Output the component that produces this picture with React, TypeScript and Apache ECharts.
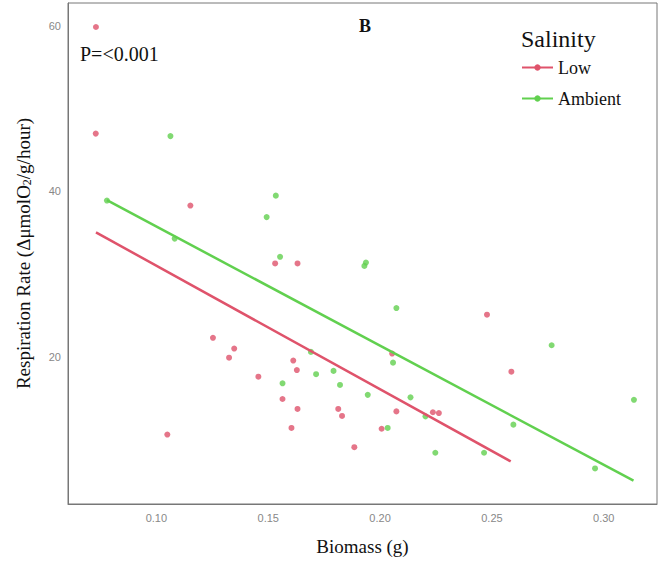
import React, { useEffect, useRef } from "react";
import * as echarts from "echarts";

const lowX = [0.073, 0.0729, 0.1152, 0.1531, 0.1631, 0.1253, 0.1348, 0.1325, 0.1456, 0.1564, 0.1612, 0.1628, 0.1631, 0.1604, 0.1049, 0.1813, 0.183, 0.1885, 0.2007, 0.2054, 0.2073, 0.2236, 0.2263, 0.2478, 0.2587];
const lowY = [59.9, 47.0, 38.3, 31.3, 31.3, 22.3, 21.0, 19.9, 17.6, 14.9, 19.55, 18.4, 13.7, 11.4, 10.6, 13.7, 12.85, 9.07, 11.3, 20.4, 13.4, 13.3, 13.2, 25.1, 18.2];

const ambX = [0.1063, 0.0779, 0.1082, 0.1534, 0.1493, 0.1553, 0.193, 0.1937, 0.1691, 0.1714, 0.1564, 0.1792, 0.1821, 0.1945, 0.2034, 0.2058, 0.2073, 0.2136, 0.2203, 0.2247, 0.2465, 0.2596, 0.2767, 0.2961, 0.3135];
const ambY = [46.7, 38.9, 34.3, 39.5, 36.9, 32.1, 31.0, 31.4, 20.6, 17.9, 16.8, 18.3, 16.6, 15.4, 11.4, 19.3, 25.9, 15.1, 12.8, 8.4, 8.4, 11.8, 21.4, 6.5, 14.8];

const lowFitX = [0.073, 0.2584];
const lowFitY = [35.06, 7.35];
const ambFitX = [0.0779, 0.3133];
const ambFitY = [38.95, 5.02];

const xTicks = [0.1, 0.15, 0.2, 0.25, 0.3];
const yTicks = [20, 40, 60];

const RED = "#DF536B";
const GREEN = "#61D04F";
const SERIF = "'Liberation Serif', 'Times New Roman', serif";

const zip = (a: number[], b: number[]) => a.map((v, i) => [v, b[i]]);

export default function App() {
  const ref = useRef<HTMLDivElement>(null);
  useEffect(() => {
    document.body.style.margin = "0";
    const chart = echarts.init(ref.current!, null, { renderer: "svg" });
    chart.setOption({
      animation: false,
      backgroundColor: "#fff",
      grid: { left: 68, top: 3, right: 3, bottom: 59, show: true, borderColor: "#777", borderWidth: 1, backgroundColor: "transparent" },
      xAxis: {
        type: "value",
        min: 0.0605,
        max: 0.3238,
        splitLine: { show: false },
        axisTick: { show: false },
        axisLine: { show: true, lineStyle: { color: "#777" } },
        axisLabel: { customValues: xTicks, formatter: (v: number) => v.toFixed(2), color: "#888", fontSize: 11, fontFamily: "'Liberation Sans', Arial, sans-serif", margin: 8 },
        name: "Biomass (g)",
        nameLocation: "middle",
        nameGap: 33,
        nameTextStyle: { fontFamily: SERIF, fontSize: 19, color: "#111" },
      },
      yAxis: {
        type: "value",
        min: 2.2,
        max: 62.8,
        splitLine: { show: false },
        axisTick: { show: false },
        axisLine: { show: true, lineStyle: { color: "#777" } },
        axisLabel: { customValues: yTicks, color: "#888", fontSize: 11, fontFamily: "'Liberation Sans', Arial, sans-serif", margin: 7 },
        name: "{a|Respiration Rate (ΔμmolO}{s|2}{a|/g/hour)}",
        nameLocation: "middle",
        nameGap: 35,
        nameTextStyle: {
          fontFamily: SERIF,
          fontSize: 19,
          color: "#111",
          rich: {
            a: { fontFamily: SERIF, fontSize: 19, color: "#111", lineHeight: 24, verticalAlign: "bottom" },
            s: { fontFamily: SERIF, fontSize: 12, color: "#111", lineHeight: 14, verticalAlign: "bottom" },
          },
        },
      },
      legend: {
        data: ["Low", "Ambient"],
        orient: "vertical",
        left: 521,
        top: 58,
        padding: 0,
        itemWidth: 31,
        itemHeight: 8,
        itemGap: 12,
        textStyle: { fontFamily: SERIF, fontSize: 18, color: "#111", lineHeight: 19 },
      },
      graphic: [
        { type: "text", left: 521, top: 27, style: { text: "Salinity", fontFamily: SERIF, fontSize: 24, fill: "#111" } },
        { type: "text", left: 359, top: 17, style: { text: "B", fontFamily: SERIF, fontSize: 18, fontWeight: "bold", fill: "#111" } },
        { type: "text", left: 80, top: 44, style: { text: "P=<0.001", fontFamily: SERIF, fontSize: 20, fill: "#111" } },
      ],
      series: [
        { name: "Low", type: "line", data: zip(lowFitX, lowFitY), symbol: "circle", symbolSize: 6, showSymbol: false, lineStyle: { color: RED, width: 2.5 }, itemStyle: { color: RED }, z: 4 },
        { name: "Ambient", type: "line", data: zip(ambFitX, ambFitY), symbol: "circle", symbolSize: 6, showSymbol: false, lineStyle: { color: GREEN, width: 2.5 }, itemStyle: { color: GREEN }, z: 4 },
        { name: "Low", type: "scatter", data: zip(lowX, lowY), symbol: "circle", symbolSize: 6, itemStyle: { color: RED }, z: 2 },
        { name: "Ambient", type: "scatter", data: zip(ambX, ambY), symbol: "circle", symbolSize: 6, itemStyle: { color: GREEN }, z: 2 },
      ],
    });
    return () => chart.dispose();
  }, []);
  return <div ref={ref} style={{ width: 660, height: 563 }} />;
}
